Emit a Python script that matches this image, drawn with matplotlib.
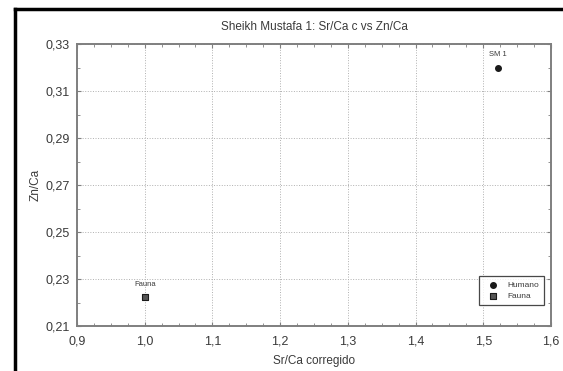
import matplotlib
matplotlib.use('Agg')
import matplotlib.pyplot as plt
from matplotlib.lines import Line2D
from matplotlib.ticker import MultipleLocator, FixedLocator, FuncFormatter

plt.rcParams['font.family'] = ['Liberation Sans', 'DejaVu Sans']

# data
human_names = ['SM 1']
human_srca = [1.522]
human_znca = [0.320]

fauna_names = ['Fauna']
fauna_srca = [1.0]
fauna_znca = [0.2222]

y_ticks = [0.21, 0.23, 0.25, 0.27, 0.29, 0.31, 0.33]

W, H = 563, 371
fig = plt.figure(figsize=(W / 100, H / 100), dpi=100)
ax = fig.add_axes([77 / W, 1 - 326 / H, (551 - 77) / W, (326 - 44) / H])

grey = '#7f7f7f'
txt = '#3a3a3a'

ax.scatter(human_srca, human_znca, marker='o', s=16, color='#1a1a1a', zorder=3, label='Humano')
ax.scatter(fauna_srca, fauna_znca, marker='s', s=16, facecolor='#555555',
           edgecolor='#1a1a1a', linewidth=0.8, zorder=3, label='Fauna')

for name, x, y in zip(human_names, human_srca, human_znca):
    ax.annotate(name, (x, y), xytext=(0, 7), textcoords='offset points',
                ha='center', va='bottom', fontsize=5.5, color=txt)
for name, x, y in zip(fauna_names, fauna_srca, fauna_znca):
    ax.annotate(name, (x, y), xytext=(0, 7), textcoords='offset points',
                ha='center', va='bottom', fontsize=5.5, color=txt)

ax.set_xlim(0.9, 1.6)
ax.set_ylim(0.21, 0.33)
ax.xaxis.set_major_locator(MultipleLocator(0.1))
ax.xaxis.set_minor_locator(MultipleLocator(0.025))
ax.yaxis.set_major_locator(FixedLocator(y_ticks))
ax.yaxis.set_minor_locator(MultipleLocator(0.01))
ax.xaxis.set_major_formatter(FuncFormatter(lambda v, p: f'{v:.1f}'.replace('.', ',')))
ax.yaxis.set_major_formatter(FuncFormatter(lambda v, p: f'{v:.2f}'.replace('.', ',')))

ax.grid(True, which='major', linestyle=':', linewidth=0.7, color='#b0b0b0')
ax.tick_params(which='both', direction='in', top=True, right=True, color=grey,
               labelsize=9, labelcolor=txt, pad=5)
ax.tick_params(axis='x', pad=7)
ax.tick_params(which='major', length=3, width=0.8)
ax.tick_params(which='minor', length=2, width=0.6)
for s in ax.spines.values():
    s.set_color(grey)
    s.set_linewidth(1.4)

ax.set_title('Sheikh Mustafa 1: Sr/Ca c vs Zn/Ca', fontsize=8.5, color=txt, pad=10)
ax.set_xlabel('Sr/Ca corregido', fontsize=8.5, color=txt, labelpad=5)
ax.set_ylabel('Zn/Ca', fontsize=8.5, color=txt, labelpad=3)

leg = ax.legend(loc='lower right', fontsize=6, frameon=True, fancybox=False,
                edgecolor='#1a1a1a', handletextpad=0.8, borderpad=0.6,
                labelspacing=0.4, bbox_to_anchor=(0.995, 0.06))
leg.get_frame().set_linewidth(0.9)
for t in leg.get_texts():
    t.set_color(txt)

# outer black frame (left and top edge)
fig.add_artist(Line2D([15 / W, 15 / W], [0, 1 - 9 / H], transform=fig.transFigure,
                      color='black', linewidth=2.5))
fig.add_artist(Line2D([15 / W, 1], [1 - 9 / H, 1 - 9 / H], transform=fig.transFigure,
                      color='black', linewidth=2.5))

fig.savefig('out.png', dpi=100)
